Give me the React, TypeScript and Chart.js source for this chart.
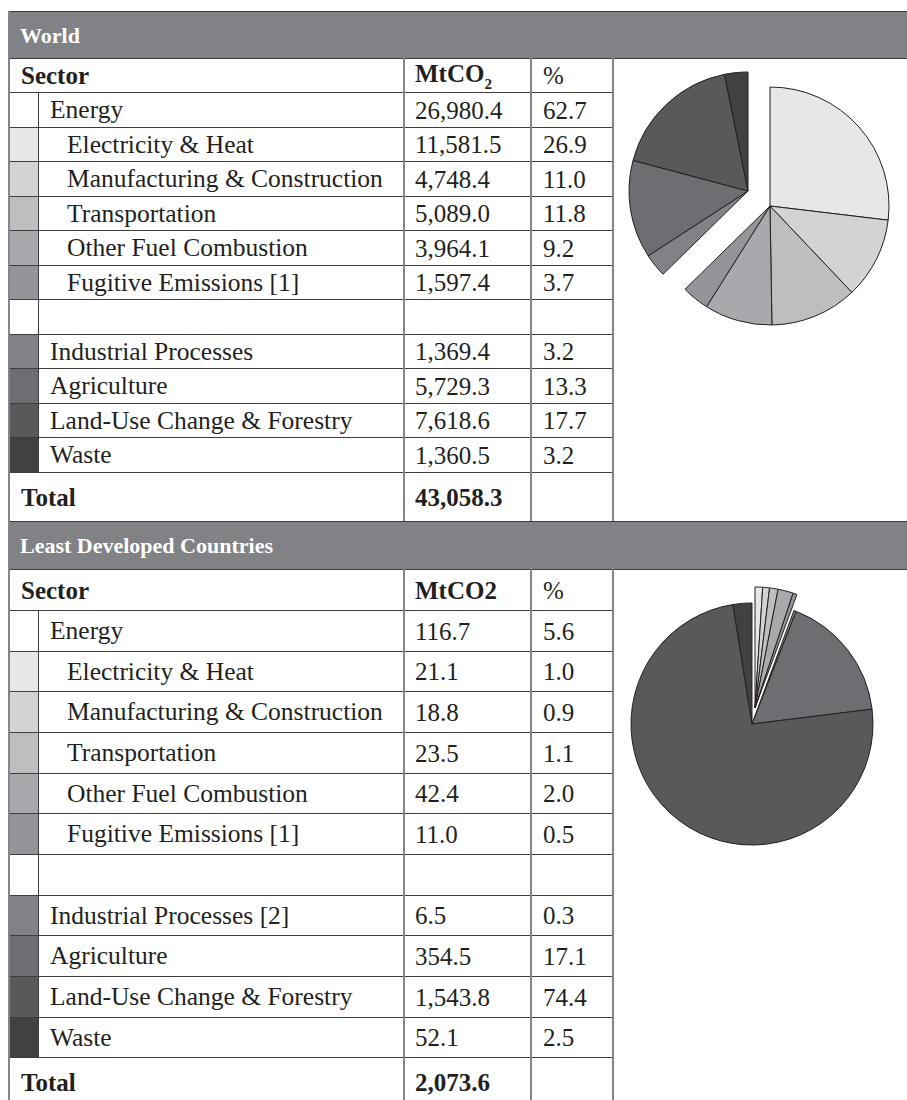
import React, { useEffect, useRef } from "react";
import { Chart, registerables } from "chart.js";
Chart.register(...registerables);

// ---------- DATA ----------
const worldSectors = [
  "Energy",
  "Electricity & Heat",
  "Manufacturing & Construction",
  "Transportation",
  "Other Fuel Combustion",
  "Fugitive Emissions [1]",
  "",
  "Industrial Processes",
  "Agriculture",
  "Land-Use Change & Forestry",
  "Waste",
];
const ldcSectors = [
  "Energy",
  "Electricity & Heat",
  "Manufacturing & Construction",
  "Transportation",
  "Other Fuel Combustion",
  "Fugitive Emissions [1]",
  "",
  "Industrial Processes [2]",
  "Agriculture",
  "Land-Use Change & Forestry",
  "Waste",
];
const isSubSector = [false, true, true, true, true, true, false, false, false, false, false];
const swatchColors = [
  "#ffffff", "#e6e7e8", "#d1d3d4", "#bcbec0", "#a7a9ac", "#939598",
  "#ffffff", "#808285", "#6d6e71", "#58595b", "#414042",
];
const worldMt: (number | null)[] = [26980.4, 11581.5, 4748.4, 5089.0, 3964.1, 1597.4, null, 1369.4, 5729.3, 7618.6, 1360.5];
const worldPct: (number | null)[] = [62.7, 26.9, 11.0, 11.8, 9.2, 3.7, null, 3.2, 13.3, 17.7, 3.2];
const worldTotal = 43058.3;
const ldcMt: (number | null)[] = [116.7, 21.1, 18.8, 23.5, 42.4, 11.0, null, 6.5, 354.5, 1543.8, 52.1];
const ldcPct: (number | null)[] = [5.6, 1.0, 0.9, 1.1, 2.0, 0.5, null, 0.3, 17.1, 74.4, 2.5];
const ldcTotal = 2073.6;

const pieLabels = [
  "Electricity & Heat", "Manufacturing & Construction", "Transportation",
  "Other Fuel Combustion", "Fugitive Emissions", "Industrial Processes",
  "Agriculture", "Land-Use Change & Forestry", "Waste",
];
const pieColors = ["#e6e7e8", "#d1d3d4", "#bcbec0", "#a7a9ac", "#939598", "#808285", "#6d6e71", "#58595b", "#414042"];
const worldPieValues = [11581.5, 4748.4, 5089.0, 3964.1, 1597.4, 1369.4, 5729.3, 7618.6, 1360.5];
const ldcPieValues = [21.1, 18.8, 23.5, 42.4, 11.0, 6.5, 354.5, 1543.8, 52.1];
const inEnergyGroup = [true, true, true, true, true, false, false, false, false];

// ---------- STYLE ----------
const FONT = '"Liberation Serif", "DejaVu Serif", serif';
const TEXT = "#231f20";
const HLINE = "#3d3d3f";
const VLINE = "#848588";
const HEADER_BG = "#808285";
const LEFT = 8;
const X_SWATCH = 39;
const X_MT = 404;
const X_PCT = 531;
const X_PIE = 613;
const RIGHT = 907;

const fmt = (v: number | null) =>
  v == null ? "" : v.toLocaleString("en-US", { minimumFractionDigits: 1, maximumFractionDigits: 1 });

function PieCanvas(props: {
  values: number[];
  show: boolean[];
  cx: number;
  cy: number;
  radius: number;
}) {
  const ref = useRef<HTMLCanvasElement | null>(null);
  const size = Math.ceil(props.radius * 2 + 8);
  useEffect(() => {
    if (!ref.current) return;
    const chart = new Chart(ref.current, {
      type: "pie",
      data: {
        labels: pieLabels,
        datasets: [
          {
            data: props.values,
            backgroundColor: pieColors.map((c, i) => (props.show[i] ? c : "rgba(0,0,0,0)")),
            borderColor: pieColors.map((_, i) => (props.show[i] ? "#231f20" : "rgba(0,0,0,0)")),
            borderWidth: props.show.map((s) => (s ? 1 : 0)),
          },
        ],
      },
      options: {
        responsive: false,
        animation: false,
        radius: props.radius,
        rotation: 0,
        events: [],
        layout: { padding: 0 },
        plugins: { legend: { display: false }, tooltip: { enabled: false } },
      } as any,
    });
    return () => chart.destroy();
  }, []);
  return (
    <canvas
      ref={ref}
      width={size}
      height={size}
      style={{
        position: "absolute",
        left: Math.round(props.cx - size / 2),
        top: Math.round(props.cy - size / 2),
        width: size,
        height: size,
      }}
    />
  );
}

function Section(props: {
  title: string;
  mtHeader: React.ReactNode;
  names: string[];
  mt: (number | null)[];
  pct: (number | null)[];
  total: number;
  top: number;
  headerH: number;
  sectorH: number;
  rowH: number;
  totalH: number;
}) {
  const { top, headerH, sectorH, rowH, totalH } = props;
  const els: React.ReactNode[] = [];
  const yHeaderEnd = top + headerH;
  const yRowsStart = yHeaderEnd + sectorH;
  const yRow = (i: number) => yRowsStart + i * rowH;
  const yRowsEnd = yRow(props.names.length);
  const yEnd = yRowsEnd + totalH;
  const r = Math.round;

  const textCell = (key: string, x0: number, x1: number, y0: number, y1: number, content: React.ReactNode, pad: number, bold = false, size = 25) => (
    <div
      key={key}
      style={{
        position: "absolute",
        left: x0,
        top: r(y0),
        width: x1 - x0,
        height: r(y1) - r(y0),
        display: "flex",
        alignItems: "center",
        paddingLeft: pad,
        paddingTop: 2,
        boxSizing: "border-box",
        fontFamily: FONT,
        fontSize: size,
        fontWeight: bold ? 700 : 400,
        color: TEXT,
        whiteSpace: "nowrap",
        lineHeight: 1.1,
      }}
    >
      {content}
    </div>
  );

  // header bar
  els.push(
    <div
      key="hdr"
      style={{
        position: "absolute",
        left: LEFT,
        top: r(top),
        width: RIGHT - LEFT + 10,
        height: r(yHeaderEnd) - r(top) + 1,
        background: HEADER_BG,
        borderTop: `1px solid ${HLINE}`,
        borderBottom: `1px solid ${HLINE}`,
        boxSizing: "border-box",
        display: "flex",
        alignItems: "center",
        paddingLeft: 12,
        paddingTop: 1,
        color: "#ffffff",
        fontFamily: FONT,
        fontWeight: 700,
        fontSize: 22,
      }}
    >
      {props.title}
    </div>
  );

  // sector header row
  els.push(textCell("sh", LEFT, X_MT, yHeaderEnd, yRowsStart, "Sector", 13, true));
  els.push(textCell("mh", X_MT, X_PCT, yHeaderEnd, yRowsStart, props.mtHeader, 11, true));
  els.push(textCell("ph", X_PCT, X_PIE, yHeaderEnd, yRowsStart, "%", 12, false));

  // data rows
  props.names.forEach((name, i) => {
    const y0 = yRow(i);
    const y1 = yRow(i + 1);
    els.push(
      <div
        key={"sw" + i}
        style={{
          position: "absolute",
          left: LEFT,
          top: r(y0),
          width: X_SWATCH - LEFT,
          height: r(y1) - r(y0),
          background: swatchColors[i],
        }}
      />
    );
    els.push(textCell("n" + i, X_SWATCH, X_MT, y0, y1, name, isSubSector[i] ? 28 : 11, false, 25.5));
    els.push(textCell("m" + i, X_MT, X_PCT, y0, y1, fmt(props.mt[i]), 11));
    els.push(textCell("p" + i, X_PCT, X_PIE, y0, y1, fmt(props.pct[i]), 12));
  });

  // total row
  els.push(textCell("tl", LEFT, X_MT, yRowsEnd, yEnd, "Total", 13, true));
  els.push(textCell("tv", X_MT, X_PCT, yRowsEnd, yEnd, fmt(props.total), 11, true));

  // horizontal lines
  const hys = [yRowsStart];
  for (let i = 1; i <= props.names.length; i++) hys.push(yRow(i));
  hys.forEach((y, i) =>
    els.push(
      <div
        key={"hl" + i}
        style={{ position: "absolute", left: LEFT, top: r(y), width: X_PIE - LEFT, height: 1, background: HLINE }}
      />
    )
  );

  // vertical lines
  const vline = (key: string, x: number, y0: number, y1: number, w: number, col: string) =>
    els.push(
      <div
        key={key}
        style={{ position: "absolute", left: x, top: r(y0), width: w, height: r(y1) - r(y0), background: col }}
      />
    );
  vline("vl0", LEFT, top, yEnd, 2, VLINE);
  vline("vl1", X_SWATCH - 1, yRowsStart, yRowsEnd, 1, HLINE);
  vline("vl2", X_MT - 1, yHeaderEnd, yEnd, 2, VLINE);
  vline("vl3", X_PCT - 1, yHeaderEnd, yEnd, 2, VLINE);
  vline("vl4", X_PIE - 1, yHeaderEnd, yEnd, 2, VLINE);

  return <>{els}</>;
}

export default function App() {
  useEffect(() => {
    document.body.style.margin = "0";
    document.body.style.overflow = "hidden";
  }, []);
  const notEnergy = inEnergyGroup.map((b) => !b);
  return (
    <div style={{ position: "relative", width: 907, height: 1100, overflow: "hidden", background: "#ffffff" }}>
      <Section
        title="World"
        mtHeader={
          <span>
            MtCO<sub style={{ fontSize: "0.6em", verticalAlign: "-0.45em" }}>2</sub>
          </span>
        }
        names={worldSectors}
        mt={worldMt}
        pct={worldPct}
        total={worldTotal}
        top={10.7}
        headerH={47.6}
        sectorH={34}
        rowH={34.49}
        totalH={49}
      />
      <Section
        title="Least Developed Countries"
        mtHeader="MtCO2"
        names={ldcSectors}
        mt={ldcMt}
        pct={ldcPct}
        total={ldcTotal}
        top={520.7}
        headerH={48}
        sectorH={41.3}
        rowH={40.66}
        totalH={49}
      />
      {/* World pie: energy group and exploded non-energy group */}
      <PieCanvas values={worldPieValues} show={inEnergyGroup} cx={770} cy={206} radius={119} />
      <PieCanvas values={worldPieValues} show={notEnergy} cx={748} cy={191} radius={119} />
      {/* LDC pie: main group and exploded energy group */}
      <PieCanvas values={ldcPieValues} show={notEnergy} cx={752} cy={724} radius={121} />
      <PieCanvas values={ldcPieValues} show={inEnergyGroup} cx={755} cy={708} radius={121} />
    </div>
  );
}
